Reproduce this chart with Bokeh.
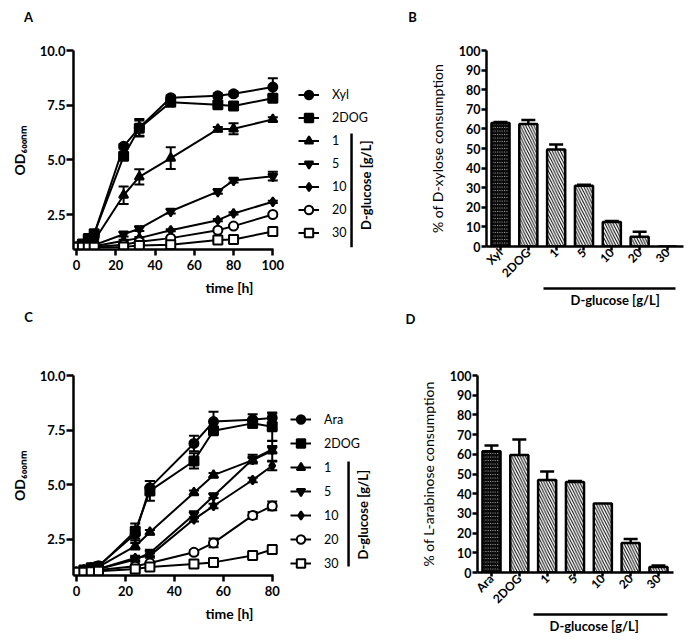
import math
from bokeh.plotting import figure
from bokeh.models import (ColumnDataSource, Whisker, TeeHead, Legend, LegendItem,
                          LinearAxis, FixedTicker, Label, Title)
from bokeh.layouts import row, column
from bokeh.embed import file_html
from bokeh.resources import INLINE

FONT = "Lato"

# ---------------- data: panel A (D-xylose growth) ----------------
tA = [0, 3, 6, 9, 24, 32, 48, 72, 80, 100]
A_names = ["Xyl", "2DOG", "1", "5", "10", "20", "30"]
A_vals = {
    "Xyl":  [1.0, 1.1, 1.3, 1.6, 5.62, 6.47, 7.84, 7.93, 8.02, 8.33],
    "2DOG": [1.0, 1.15, 1.4, 1.62, 5.16, 6.45, 7.63, 7.52, 7.46, 7.82],
    "1":    [1.0, 1.05, 1.15, 1.3, 3.38, 4.22, 5.08, 6.40, 6.42, 6.85],
    "5":    [1.0, 1.02, 1.05, 1.1, 1.60, 1.85, 2.65, 3.55, 4.06, 4.25],
    "10":   [1.0, 1.0, 1.02, 1.05, 1.30, 1.42, 1.78, 2.24, 2.55, 3.08],
    "20":   [1.0, 1.0, 1.0, 1.02, 1.12, 1.25, 1.42, 1.78, 1.97, 2.50],
    "30":   [1.0, 1.0, 1.0, 1.0, 1.02, 1.08, 1.12, 1.33, 1.36, 1.72],
}
A_err = {
    "Xyl":  [0.05, 0.05, 0.1, 0.1, 0.1, 0.4, 0.1, 0.1, 0.1, 0.4],
    "2DOG": [0.05, 0.05, 0.1, 0.1, 0.1, 0.35, 0.1, 0.1, 0.1, 0.15],
    "1":    [0.05, 0.05, 0.05, 0.05, 0.4, 0.35, 0.5, 0.1, 0.25, 0.1],
    "5":    [0.05, 0.05, 0.05, 0.05, 0.1, 0.1, 0.1, 0.1, 0.1, 0.2],
    "10":   [0.05, 0.05, 0.05, 0.05, 0.05, 0.05, 0.05, 0.05, 0.05, 0.05],
    "20":   [0.05, 0.05, 0.05, 0.05, 0.05, 0.05, 0.05, 0.05, 0.05, 0.05],
    "30":   [0.05, 0.05, 0.05, 0.05, 0.05, 0.05, 0.05, 0.05, 0.05, 0.05],
}

# ---------------- data: panel C (L-arabinose growth) ----------------
tC = [0, 3, 6, 9, 24, 30, 48, 56, 72, 80]
C_names = ["Ara", "2DOG", "1", "5", "10", "20", "30"]
C_vals = {
    "Ara":  [1.0, 1.1, 1.2, 1.3, 2.75, 4.87, 6.89, 7.89, 7.98, 8.06],
    "2DOG": [1.0, 1.1, 1.2, 1.25, 2.88, 4.72, 6.09, 7.47, 7.81, 7.66],
    "1":    [1.0, 1.1, 1.2, 1.25, 2.19, 2.83, 4.64, 5.44, 6.13, 6.55],
    "5":    [1.0, 1.05, 1.1, 1.15, 1.58, 1.88, 3.64, 4.49, 6.17, 6.62],
    "10":   [1.0, 1.05, 1.1, 1.15, 1.65, 1.76, 3.42, 4.03, 5.22, 5.87],
    "20":   [1.0, 1.02, 1.05, 1.1, 1.27, 1.42, 1.91, 2.34, 3.60, 4.03],
    "30":   [1.0, 1.0, 1.02, 1.05, 1.15, 1.24, 1.38, 1.45, 1.76, 2.04],
}
C_err = {
    "Ara":  [0.05, 0.05, 0.1, 0.1, 0.3, 0.3, 0.35, 0.45, 0.25, 0.2],
    "2DOG": [0.05, 0.05, 0.1, 0.1, 0.35, 0.45, 0.35, 0.1, 0.2, 0.65],
    "1":    [0.05, 0.05, 0.05, 0.05, 0.15, 0.1, 0.1, 0.1, 0.1, 0.45],
    "5":    [0.05, 0.05, 0.05, 0.05, 0.1, 0.15, 0.15, 0.1, 0.2, 0.15],
    "10":   [0.05, 0.05, 0.05, 0.05, 0.1, 0.1, 0.1, 0.1, 0.1, 0.2],
    "20":   [0.05, 0.05, 0.05, 0.05, 0.05, 0.05, 0.1, 0.2, 0.15, 0.2],
    "30":   [0.05, 0.05, 0.05, 0.05, 0.05, 0.05, 0.05, 0.05, 0.1, 0.1],
}

# ---------------- data: panels B and D (consumption, %) ----------------
B_cats = ["Xyl", "2DOG", "1", "5", "10", "20", "30"]
B_vals = [63.0, 62.5, 49.5, 31.0, 12.5, 5.0, 0.0]
B_err = [0.5, 2.0, 2.5, 0.5, 0.5, 2.5, 0.0]

D_cats = ["Ara", "2DOG", "1", "5", "10", "20", "30"]
D_vals = [61.5, 59.7, 47.0, 46.0, 35.0, 15.0, 2.8]
D_err = [3.0, 7.8, 4.3, 0.5, 0.0, 2.0, 0.8]

yticksOD = [2.5, 5.0, 7.5, 10.0]
yticksPct = list(range(0, 101, 10))
GLU = "D-glucose [g/L]"

MARKERS = [("circle", "black"), ("square", "black"), ("triangle", "black"),
           ("inverted_triangle", "black"), ("diamond", "black"),
           ("circle", "white"), ("square", "white")]


def style_axis(ax, lw=2.5, tick_out=7, standoff=2, size="13px"):
    ax.axis_line_width = lw
    ax.major_tick_line_width = lw
    ax.major_tick_in = 0
    ax.major_tick_out = tick_out
    ax.minor_tick_line_color = None
    ax.major_label_standoff = standoff
    ax.major_label_text_font = FONT
    ax.major_label_text_font_style = "bold"
    ax.major_label_text_font_size = size
    ax.major_label_text_color = "black"
    ax.axis_label_text_font = FONT
    ax.axis_label_text_color = "black"


def letter_row(width, height, letters):
    f = figure(width=width, height=height, x_range=(0, width), y_range=(height, 0),
               x_axis_type=None, y_axis_type=None, output_backend="svg",
               toolbar_location=None, min_border=0)
    f.outline_line_color = None
    f.grid.visible = False
    for text, x, y in letters:
        f.add_layout(Label(x=x, y=y, text=text, text_font=FONT, text_font_style="bold",
                           text_font_size="13px", text_align="center",
                           text_baseline="middle", text_color="black"))
    return f


def growth_panel(t, names, vals, errs, xr, yr, xticks, xbounds, fw, fh, borders,
                 legend_loc, gh, br_x, br_bounds, br_label_xy):
    bl, br, bt, bb = borders
    p = figure(frame_width=fw, frame_height=fh, x_range=xr, y_range=yr,
               output_backend="svg", toolbar_location=None,
               min_border_left=bl, min_border_right=br,
               min_border_top=bt, min_border_bottom=bb)
    p.grid.visible = False
    p.outline_line_color = None
    p.background_fill_color = "white"
    xa = p.xaxis[0]
    ya = p.yaxis[0]
    style_axis(xa, tick_out=6, standoff=4)
    style_axis(ya, tick_out=7, standoff=1)
    xa.ticker = FixedTicker(ticks=xticks)
    ya.ticker = FixedTicker(ticks=yticksOD)
    ya.major_label_overrides = {v: "%.1f" % v for v in yticksOD}
    xa.bounds = xbounds
    xa.axis_label = "time [h]"
    xa.axis_label_text_font_style = "bold"
    xa.axis_label_text_font_size = "14px"
    xa.axis_label_standoff = 6
    ya.axis_label = "OD\u2086\u2080\u2080\u2099\u2098"
    ya.axis_label_text_font_style = "bold"
    ya.axis_label_text_font_size = "14px"
    ya.axis_label_standoff = 9

    items = []
    for name, (mk, fc) in zip(names, MARKERS):
        v = vals[name]
        e = errs[name]
        src = ColumnDataSource(dict(x=t, y=v,
                                    u=[a + b for a, b in zip(v, e)],
                                    l=[a - b for a, b in zip(v, e)]))
        lr = p.line("x", "y", source=src, line_color="black", line_width=2)
        p.add_layout(Whisker(base="x", upper="u", lower="l", source=src,
                             line_width=2, line_color="black",
                             upper_head=TeeHead(size=10, line_width=2),
                             lower_head=TeeHead(size=10, line_width=2)))
        sr = p.scatter("x", "y", source=src, marker=mk, size=9,
                       fill_color=fc, line_color="black", line_width=2)
        items.append(LegendItem(label=name, renderers=[lr, sr]))
    leg = Legend(items=items, location=legend_loc, orientation="vertical",
                 glyph_width=21, glyph_height=gh, label_height=gh, spacing=0,
                 padding=0, margin=0, label_standoff=13,
                 label_text_font=FONT, label_text_font_size="12.5px",
                 label_text_color="black",
                 border_line_color=None, background_fill_alpha=0)
    p.add_layout(leg)
    # bracket grouping the D-glucose concentrations in the legend
    bsrc = ColumnDataSource(dict(x=[br_x], l=[br_bounds[0]], u=[br_bounds[1]]))
    p.add_layout(Whisker(base="x", lower="l", upper="u", source=bsrc,
                         line_width=2.5, line_color="black",
                         lower_head=None, upper_head=None))
    p.add_layout(Label(x=br_label_xy[0], y=br_label_xy[1], text=GLU, angle=math.pi / 2,
                       text_font=FONT, text_font_style="bold", text_font_size="13px",
                       text_align="center", text_baseline="middle", text_color="black"))
    return p


def bar_panel(cats, vals, errs, ylabel, xr, fw, fh, borders, br_bounds, br_offset):
    bl, br, bt, bb = borders
    p = figure(frame_width=fw, frame_height=fh, x_range=xr, y_range=(0, 100),
               output_backend="svg", toolbar_location=None,
               min_border_left=bl, min_border_right=br,
               min_border_top=bt, min_border_bottom=bb)
    p.grid.visible = False
    p.outline_line_color = None
    xs = list(range(len(cats)))
    p.vbar(x=xs[:1], top=vals[:1], width=0.65, fill_color="white",
           line_color="black", line_width=2.5,
           hatch_pattern="left_diagonal_line", hatch_color="black",
           hatch_scale=3.5, hatch_weight=1.5)
    p.vbar(x=xs[1:], top=vals[1:], width=0.65, fill_color="white",
           line_color="black", line_width=2.5,
           hatch_pattern="left_diagonal_line", hatch_color="black",
           hatch_scale=5.5, hatch_weight=1.0)
    ex = [x for x, e in zip(xs, errs) if e > 0]
    eu = [v + e for v, e in zip(vals, errs) if e > 0]
    el = [v - e for v, e in zip(vals, errs) if e > 0]
    src = ColumnDataSource(dict(x=ex, u=eu, l=el))
    p.add_layout(Whisker(base="x", upper="u", lower="l", source=src,
                         line_width=2.5, line_color="black",
                         upper_head=TeeHead(size=14, line_width=2.5),
                         lower_head=TeeHead(size=14, line_width=2.5)))
    xa = p.xaxis[0]
    ya = p.yaxis[0]
    style_axis(xa, tick_out=4, standoff=0, size="12px")
    style_axis(ya, tick_out=5, standoff=1, size="12.5px")
    xa.ticker = FixedTicker(ticks=xs)
    xa.major_label_overrides = {x: c for x, c in zip(xs, cats)}
    xa.major_label_orientation = math.pi / 4
    ya.ticker = FixedTicker(ticks=yticksPct)
    ya.axis_label = ylabel
    ya.axis_label_text_font_style = "normal"
    ya.axis_label_text_font_size = "14px"
    ya.axis_label_standoff = 10
    # bracket under the D-glucose concentrations
    bax = LinearAxis(bounds=br_bounds, ticker=FixedTicker(ticks=[]))
    bax.axis_line_width = 2.5
    bax.major_tick_out = 0
    bax.major_tick_in = 0
    bax.major_tick_line_color = None
    bax.minor_tick_line_color = None
    bax.major_label_text_font_size = "0px"
    bax.major_label_standoff = 0
    p.add_layout(bax, "below")
    p.add_layout(Title(text=GLU, align="left", offset=br_offset, standoff=2,
                       text_font=FONT, text_font_style="bold", text_font_size="13px",
                       text_color="black"), "below")
    return p


LA = letter_row(685, 30, [("A", 28, 16), ("B", 412, 16)])

pA = growth_panel(tA, A_names, A_vals, A_err,
                  xr=(-1.53, 157.4), yr=(0.9, 10.0),
                  xticks=[0, 20, 40, 60, 80, 100], xbounds=(-1.53, 100.5),
                  fw=312, fh=199, borders=(73, 0, 20, 57),
                  legend_loc=(225, 5), gh=23, br_x=140.1, br_bounds=(1.0, 6.2),
                  br_label_xy=(147.7, 3.84))

pB = bar_panel(B_cats, B_vals, B_err, "% of D-xylose consumption",
               xr=(-0.503, 6.576), fw=197, fh=196, borders=(101, 2, 20, 60),
               br_bounds=(1.545, 6.29), br_offset=84)

LC = letter_row(685, 20, [("C", 28, 8), ("D", 410, 10)])

pC = growth_panel(tC, C_names, C_vals, C_err,
                  xr=(-1.23, 126.3), yr=(0.85, 10.0),
                  xticks=[0, 20, 40, 60, 80], xbounds=(-1.23, 80.4),
                  fw=312, fh=200, borders=(73, 0, 47, 60),
                  legend_loc=(217, 0), gh=24, br_x=111.2, br_bounds=(1.26, 6.06),
                  br_label_xy=(117.3, 3.63))

pD = bar_panel(D_cats, D_vals, D_err, "% of L-arabinose consumption",
               xr=(-0.503, 6.54), fw=196, fh=197, borders=(92, 12, 47, 62),
               br_bounds=(1.51, 6.32), br_offset=72)

layout = column(LA, row(pA, pB), LC, row(pC, pD))

open("out.html", "w").write(file_html(layout, INLINE))
